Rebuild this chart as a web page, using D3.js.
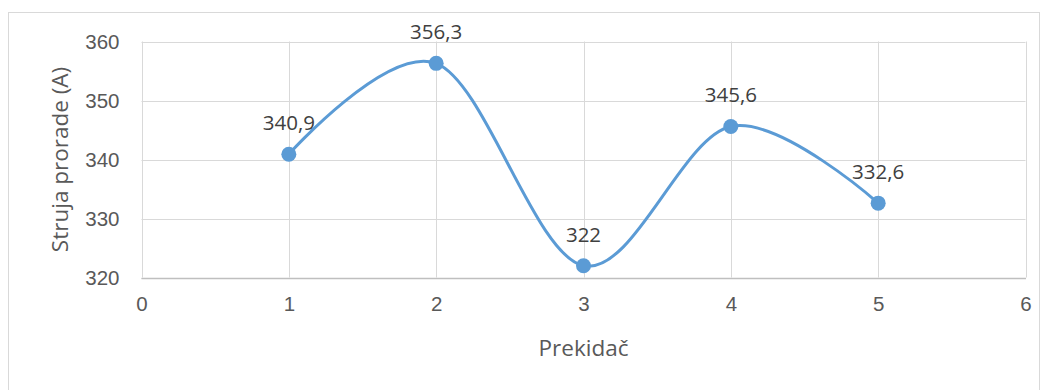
<!DOCTYPE html>
<html>
<head>
<meta charset="utf-8">
<script src="https://cdn.jsdelivr.net/npm/d3@7"></script>
<style>
  html, body { margin: 0; padding: 0; background: #fff; }
  svg { display: block; font-family: "Open Sans", "Liberation Sans", sans-serif; }
</style>
</head>
<body>
<svg id="chart" width="1048" height="390"></svg>
<script>
const xValues = [1, 2, 3, 4, 5];
const yValues = [340.9, 356.3, 322, 345.6, 332.6];
const dataLabels = ["340,9", "356,3", "322", "345,6", "332,6"];
const xTicks = [0, 1, 2, 3, 4, 5, 6];
const yTicks = [320, 330, 340, 350, 360];
const xTitle = "Prekidač";
const yTitle = "Struja prorade (A)";

const svg = d3.select("#chart");
const m = { left: 141.5, right: 1025.5, top: 41.5, bottom: 277.5 };
const numSize = "20.5px", titleSize = "22.5px";

svg.append("rect")
  .attr("x", 8.5).attr("y", 12.5)
  .attr("width", 1031).attr("height", 420)
  .attr("fill", "#fff").attr("stroke", "#d9d9d9").attr("stroke-width", 1);

const x = d3.scaleLinear().domain([0, 6]).range([m.left, m.right]);
const y = d3.scaleLinear().domain([320, 360]).range([m.bottom, m.top]);

const grid = svg.append("g");
grid.selectAll("line.h").data(yTicks).join("line")
  .attr("x1", m.left).attr("x2", m.right)
  .attr("y1", d => Math.round(y(d)) + 0.5).attr("y2", d => Math.round(y(d)) + 0.5)
  .attr("stroke", "#d9d9d9").attr("stroke-width", 1);
grid.selectAll("line.v").data(xTicks).join("line")
  .attr("y1", m.top).attr("y2", m.bottom)
  .attr("x1", d => Math.round(x(d)) + 0.5).attr("x2", d => Math.round(x(d)) + 0.5)
  .attr("stroke", "#d9d9d9").attr("stroke-width", 1);

svg.append("line")
  .attr("x1", m.left).attr("x2", m.right + 0.5)
  .attr("y1", Math.round(y(320)) + 0.5).attr("y2", Math.round(y(320)) + 0.5)
  .attr("stroke", "#bfbfbf").attr("stroke-width", 1.3);

const yAxis = svg.append("g")
  .attr("transform", `translate(${m.left - 22},0)`)
  .call(d3.axisLeft(y).tickValues(yTicks).tickFormat(d => String(d)).tickSize(0).tickPadding(0));
yAxis.select(".domain").remove();
yAxis.selectAll("text")
  .attr("fill", "#595959").style("font-size", numSize)
  .attr("dy", "0.35em");

const xAxis = svg.append("g")
  .attr("transform", `translate(0,${m.bottom + 18})`)
  .call(d3.axisBottom(x).tickValues(xTicks).tickFormat(d => String(d)).tickSize(0).tickPadding(0));
xAxis.select(".domain").remove();
xAxis.selectAll("text")
  .attr("fill", "#595959").style("font-size", numSize)
  .attr("dy", "0.75em");

svg.append("text")
  .attr("x", (m.left + m.right) / 2).attr("y", 356)
  .attr("text-anchor", "middle").attr("fill", "#595959")
  .style("font-size", titleSize).text(xTitle);
svg.append("text")
  .attr("transform", `translate(68,${(m.top + m.bottom) / 2}) rotate(-90)`)
  .attr("text-anchor", "middle").attr("fill", "#595959")
  .style("font-size", titleSize).text(yTitle);

const pts = xValues.map((v, i) => [v, yValues[i]]);
const line = d3.line()
  .x(d => x(d[0])).y(d => y(d[1]))
  .curve(d3.curveCardinal.tension(0));
svg.append("path")
  .datum(pts)
  .attr("d", line)
  .attr("fill", "none").attr("stroke", "#5b9bd5")
  .attr("stroke-width", 3).attr("stroke-linecap", "round");

svg.selectAll("circle.pt").data(pts).join("circle")
  .attr("cx", d => x(d[0])).attr("cy", d => y(d[1]))
  .attr("r", 7.5).attr("fill", "#5b9bd5");

svg.selectAll("text.lbl").data(pts).join("text")
  .attr("x", d => x(d[0])).attr("y", d => y(d[1]) - 24)
  .attr("text-anchor", "middle").attr("fill", "#404040")
  .style("font-size", numSize)
  .text((d, i) => dataLabels[i]);
</script>
</body>
</html>
